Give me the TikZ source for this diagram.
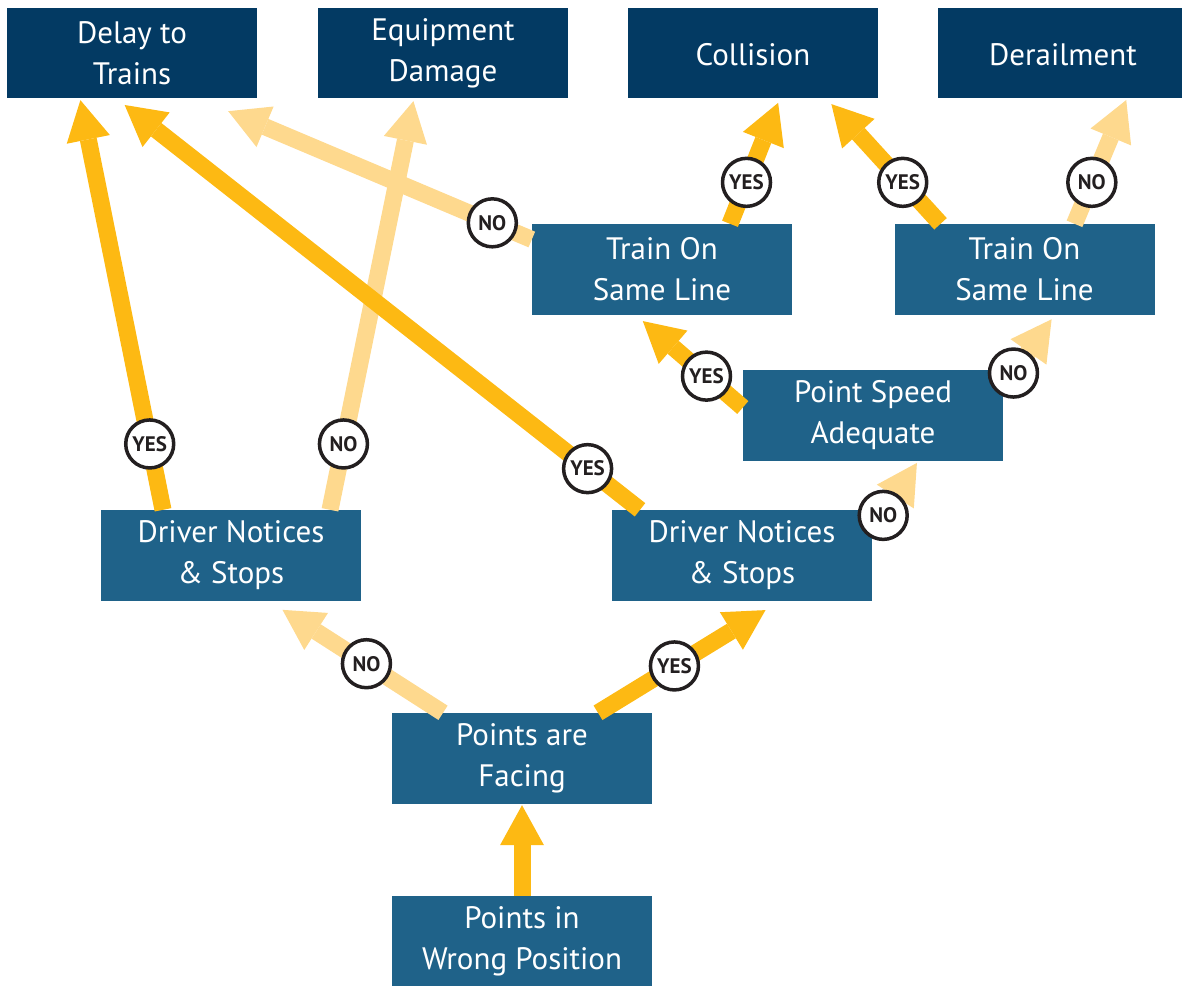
\documentclass[tikz,border=0pt]{standalone}
\usepackage{fontspec}
\setmainfont{PT Sans}
\usetikzlibrary{arrows.meta}
\definecolor{navy}{HTML}{033A63}
\definecolor{steel}{HTML}{1F6289}
\definecolor{gold}{HTML}{FDB913}
\definecolor{pale}{HTML}{FED98E}
\definecolor{ink}{HTML}{231F20}

\begin{document}
\begin{tikzpicture}[x=1pt,y=-1pt,
  box/.style={fill=steel, text=white, align=center, inner sep=0pt,
    minimum width=260pt, minimum height=91pt,
    font=\fontsize{31}{41}\selectfont,
    execute at begin node={\rule{0pt}{25pt}}},
  topbox/.style={box, fill=navy, minimum width=250pt, minimum height=90pt},
  yes/.style={draw=gold, line width=17pt,
    -{Triangle[width=44pt,length=40pt,line width=0pt]}},
  no/.style={yes, draw=pale},
  tag/.style={circle, draw=ink, line width=3.5pt, fill=white, text=ink,
    inner sep=0pt, minimum size=48pt,
    font=\fontsize{21}{21}\bfseries\selectfont}]
\useasboundingbox (0,0) rectangle (1182,985);
\clip (0,0) rectangle (1182,985);

% outcomes
\node[topbox] (delay) at (132,53) {Delay to\\Trains};
\node[topbox] (equip) at (443,53) {Equipment\\Damage};
\node[topbox] (coll) at (753,53) {Collision};
\node[topbox] (derail) at (1063,53) {Derailment};

% events
\node[box] (sameA) at (662,269.5) {Train On\\Same Line};
\node[box] (sameB) at (1024.5,269.5) {Train On\\Same Line};
\node[box] (speed) at (873,415.5) {Point Speed\\Adequate};
\node[box] (noticeA) at (231,555.5) {Driver Notices\\\& Stops};
\node[box] (noticeB) at (742,555.5) {Driver Notices\\\& Stops};
\node[box] (facing) at (522,758.5) {Points are\\Facing};
\node[box] (wrong) at (522,941.5) {Points in\\Wrong Position};

% NO branches
\draw[no, shorten >=16pt] ([xshift=-79pt]facing.north) -- ([xshift=38pt]noticeA.south)
  node[tag, pos=0.44] {NO};
\draw[no, shorten >=3pt] ([xshift=99pt]noticeA.north) -- ([xshift=-29pt]equip.south)
  node[tag, pos=0.16] {NO};
\draw[no] ([yshift=30pt]sameA.west) -- ([xshift=-29pt,yshift=-13pt]delay.south east)
  node[tag, pos=0.13] {NO};
\draw[no, shorten >=2pt] ([yshift=23pt]noticeB.east) -- ([xshift=45pt]speed.south)
  node[tag, pos=0.24] {NO};
\draw[no, shorten >=5pt] ([yshift=28pt]speed.east) -- ([xshift=30pt]sameB.south)
  node[tag, pos=0.2] {NO};
\draw[no, shorten >=2pt] ([xshift=50pt]sameB.north) -- ([xshift=64pt]derail.south)
  node[tag, pos=0.33] {NO};

% YES branches
\draw[yes, shorten >=1pt] (wrong.north) -- (facing.south);
\draw[yes, shorten >=17pt] ([xshift=76pt]facing.north) -- ([xshift=38pt]noticeB.south)
  node[tag, pos=0.42] {YES};
\draw[yes, shorten >=2pt] ([xshift=-68pt]noticeA.north) -- ([xshift=-52pt]delay.south)
  node[tag, pos=0.16] {YES};
\draw[yes, shorten >=11pt] ([xshift=-102pt]noticeB.north) -- ([xshift=-16pt]delay.south)
  node[tag, pos=0.1] {YES};
\draw[yes, shorten >=9pt] ([yshift=8pt]speed.west) -- ([xshift=-26pt]sameA.south)
  node[tag, pos=0.34] {YES};
\draw[yes, shorten >=5pt] ([xshift=68pt]sameA.north) -- ([xshift=27pt]coll.south)
  node[tag, pos=0.33] {YES};
\draw[yes, shorten >=8pt] ([xshift=-84pt]sameB.north) -- ([xshift=73pt]coll.south)
  node[tag, pos=0.33] {YES};

\end{tikzpicture}
\end{document}
